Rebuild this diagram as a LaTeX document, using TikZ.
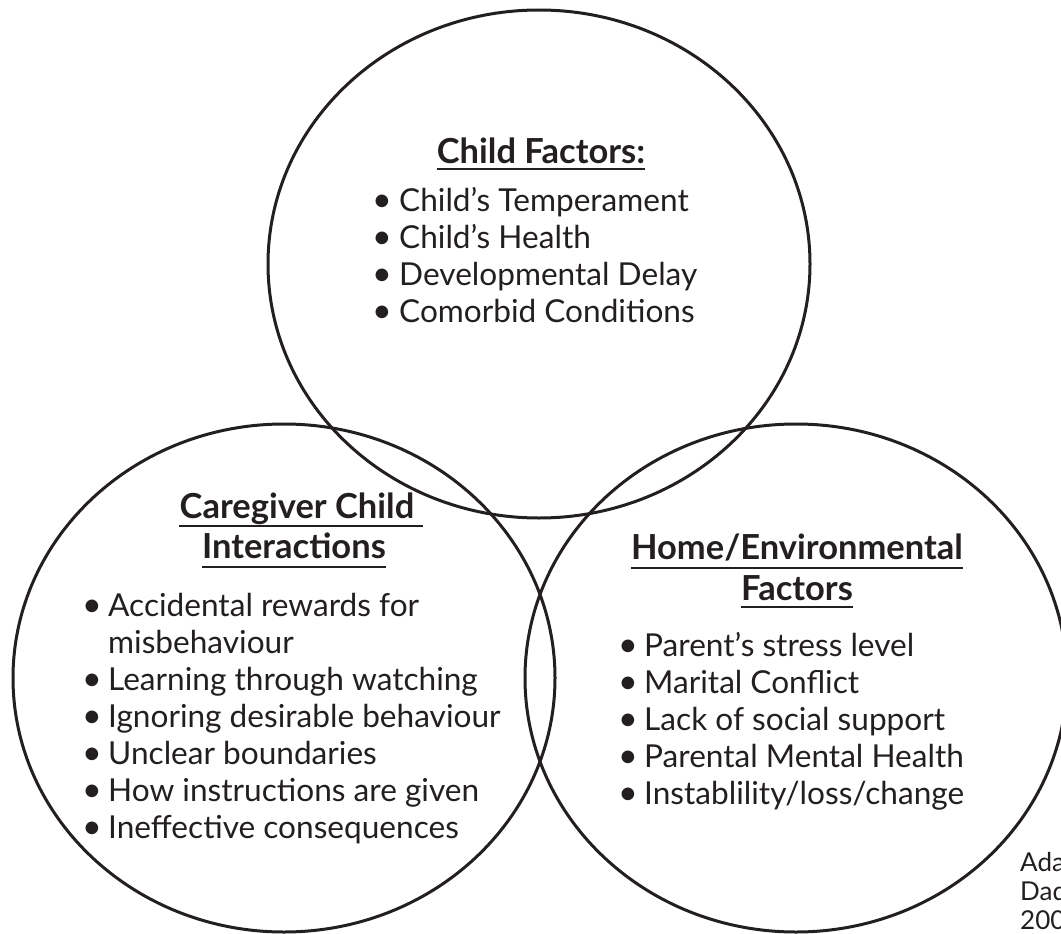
\documentclass[tikz,border=0pt]{standalone}
\usepackage{fontspec}
\setmainfont{Lato}
\usetikzlibrary{shapes.geometric}
\definecolor{ink}{HTML}{231F20}
\begin{document}
\begin{tikzpicture}[x=1pt,y=-1pt,
  ring/.style={draw=ink, line width=3pt, ellipse, inner sep=0pt,
               minimum width=542pt, minimum height=508pt},
  head/.style={font=\fontsize{34.5}{40}\bfseries\selectfont, text=ink,
               inner sep=0pt, anchor=base},
  item/.style={font=\fontsize{31.6}{37}\selectfont, text=ink,
               inner sep=0pt, anchor=base west},
  dot/.style={item, font=\fontsize{34}{37}\selectfont},
  uline/.style={draw=ink, line width=2.2pt},
  cite/.style={font=\fontsize{26}{29}\selectfont, text=ink,
               inner sep=0pt, anchor=base west}]
\useasboundingbox (0,0) rectangle (1061,934);

% the three overlapping sets
\node[ring] (child) at (539,264) {};
\node[ring] (care)  at (284,678) {};
\node[ring] (home)  at (796,678) {};

% child factors
\node[head] (hc) at (541,163) {Child Factors:};
\draw[uline] ([yshift=-6pt]hc.base west) -- ([yshift=-6pt]hc.base east);
\node[dot]  (c1b) at (372,211) {•};
\node[item] (c1)  at (399,211) {Child’s Temperament};
\node[dot]  (c2b) at (372,248) {•};
\node[item] (c2)  at (399,248) {Child’s Health};
\node[dot]  (c3b) at (372,285) {•};
\node[item] (c3)  at (399,285) {Developmental Delay};
\node[dot]  (c4b) at (372,322) {•};
\node[item] (c4)  at (399,322) {Comorbid Conditions};

% caregiver child interactions
\node[head] (hl1) at (297,518) {Caregiver Child};
\draw[uline] ([yshift=-8pt]hl1.base west) -- ([yshift=-8pt,xshift=8pt]hl1.base east);
\node[head] (hl2) at (294,558) {Interactions};
\draw[uline] ([yshift=-9pt]hl2.base west) -- ([yshift=-9pt]hl2.base east);
\node[dot]  (l1b) at (82,616) {•};
\node[item] (l1)  at (108,616) {Accidental rewards for};
\node[item] (l1c) at (108,653) {misbehaviour};
\node[dot]  (l2b) at (82,690) {•};
\node[item] (l2)  at (108,690) {Learning through watching};
\node[dot]  (l3b) at (82,727) {•};
\node[item] (l3)  at (108,727) {Ignoring desirable behaviour};
\node[dot]  (l4b) at (82,764) {•};
\node[item] (l4)  at (108,764) {Unclear boundaries};
\node[dot]  (l5b) at (82,801) {•};
\node[item] (l5)  at (108,801) {How instructions are given};
\node[dot]  (l6b) at (82,838) {•};
\node[item] (l6)  at (108,838) {Ineffective consequences};

% home / environmental factors
\node[head] (hr1) at (797,559) {Home/Environmental};
\draw[uline] ([yshift=-9pt]hr1.base west) -- ([yshift=-9pt]hr1.base east);
\node[head] (hr2) at (797,600) {Factors};
\draw[uline] ([yshift=-7pt]hr2.base west) -- ([yshift=-7pt]hr2.base east);
\node[dot]  (r1b) at (618,656) {•};
\node[item] (r1)  at (644,656) {Parent’s stress level};
\node[dot]  (r2b) at (618,693) {•};
\node[item] (r2)  at (644,693) {Marital Conflict};
\node[dot]  (r3b) at (618,730) {•};
\node[item] (r3)  at (644,730) {Lack of social support};
\node[dot]  (r4b) at (618,767) {•};
\node[item] (r4)  at (644,767) {Parental Mental Health};
\node[dot]  (r5b) at (618,804) {•};
\node[item] (r5)  at (644,804) {Instablility/loss/change};

% source note at the page edge
\node[cite] (s1) at (1020,871) {Ada};
\node[cite] (s2) at (1020,900) {Dad};
\node[cite] (s3) at (1020,929) {200};
\end{tikzpicture}
\end{document}
